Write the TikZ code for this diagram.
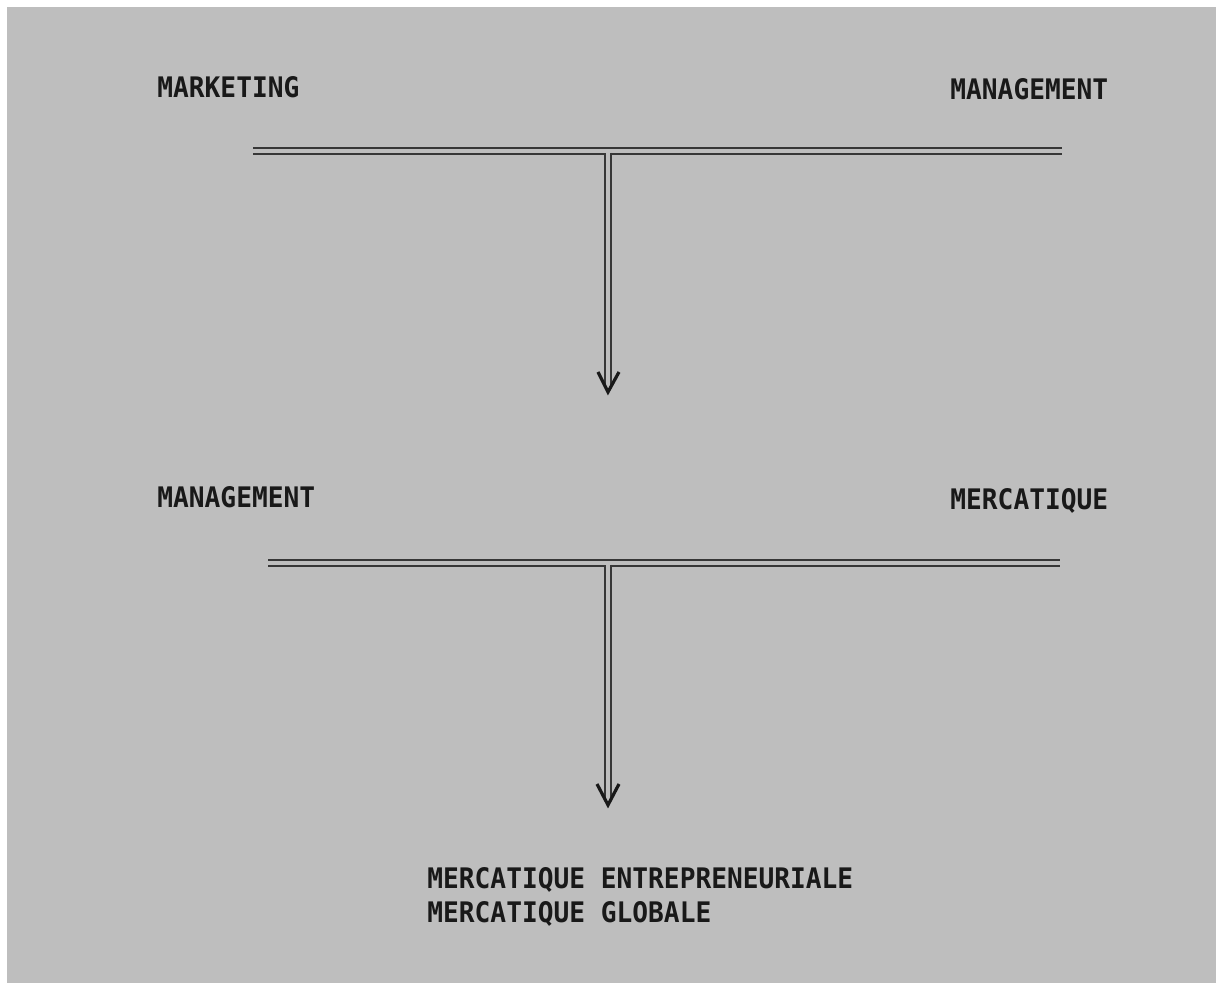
\documentclass[tikz,border=0pt]{standalone}
\usepackage{fontspec}
\newfontfamily\typewriter{DejaVu Sans Mono}
\definecolor{paper}{RGB}{190,190,190}
\definecolor{ink}{RGB}{25,25,25}
\definecolor{rule}{RGB}{55,55,55}
\begin{document}
\begin{tikzpicture}[x=0.5pt,y=-0.5pt,
  lbl/.style={inner sep=0pt,anchor=base west,text=ink,yscale=1.08,font=\typewriter\bfseries\fontsize{13.1}{16}\selectfont},
  dline/.style={draw=rule,line width=1pt,double=paper,double distance=1.9pt},
  vhead/.style={draw=ink,line width=1.6pt,line join=miter}]
\useasboundingbox (0,0) rectangle (1216,983);
\fill[white] (0,0) rectangle (1216,983);
\fill[paper] (7,7) rectangle (1216,983);
% labels
\node[lbl] (mkt) at (157,98) {MARKETING};
\node[lbl] (mgt1) at (950,100) {MANAGEMENT};
\node[lbl] (mgt2) at (157,508) {MANAGEMENT};
\node[lbl] (merc) at (950,510) {MERCATIQUE};
\node[lbl,align=left,anchor=north west] (res) at (427,867) {MERCATIQUE ENTREPRENEURIALE\\MERCATIQUE GLOBALE};
% first bar
\coordinate (b1l) at (253,151);
\coordinate (b1r) at (1062,151);
\coordinate (b1m) at (608,153);
\coordinate (a1e) at (608,386);
\coordinate (a1t) at (608,392);
\coordinate (a1l) at (598,372);
\coordinate (a1r) at (619,372);
\draw[dline] (b1l) -- (b1r);
\draw[dline] (b1m) -- (a1e);
\draw[vhead] (a1l) -- (a1t) -- (a1r);
% second bar
\coordinate (b2l) at (268,563);
\coordinate (b2r) at (1060,563);
\coordinate (b2m) at (608,565);
\coordinate (a2e) at (608,799);
\coordinate (a2t) at (608,805);
\coordinate (a2l) at (597,784);
\coordinate (a2r) at (619,784);
\draw[dline] (b2l) -- (b2r);
\draw[dline] (b2m) -- (a2e);
\draw[vhead] (a2l) -- (a2t) -- (a2r);
\end{tikzpicture}
\end{document}
